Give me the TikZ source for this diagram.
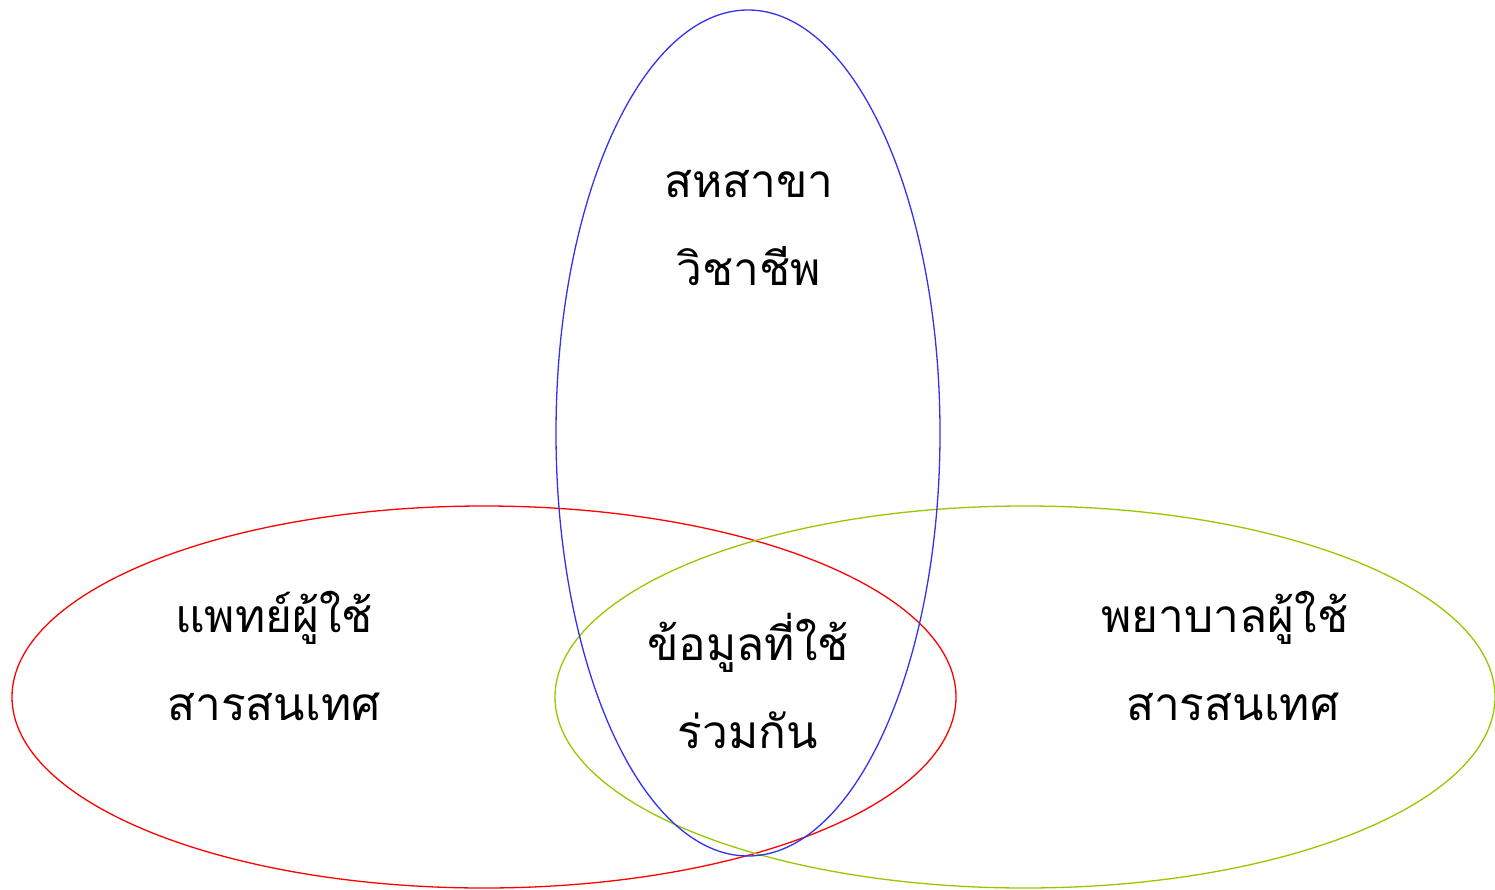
\documentclass[tikz,border=0pt]{standalone}
\usepackage{fontspec}
\newfontfamily\thaifont[Script=Thai]{Loma}
\begin{document}
\begin{tikzpicture}[x=1pt,y=-1pt,
  lbl/.style={font=\thaifont\fontsize{46}{88}\selectfont, align=center, inner sep=0pt}]
\useasboundingbox (0,0) rectangle (1495,890);
\draw[red, line width=1.3pt] (484,697) ellipse [x radius=472, y radius=191];
\draw[color={rgb,255:red,150;green,200;blue,0}, line width=1.3pt] (1025,697) ellipse [x radius=470, y radius=191];
\draw[color={rgb,255:red,50;green,50;blue,240}, line width=1.3pt] (748,433) ellipse [x radius=192, y radius=423];
\node[lbl] (t) at (749,228) {สหสาขา\\วิชาชีพ};
\node[lbl] (l) at (274,656) {แพทย์ผู้ใช้\\สารสนเทศ};
\node[lbl] (c) at (748,681) {ข้อมูลที่ใช้\\ร่วมกัน};
\node[lbl] (r) at (1225,656) {พยาบาลผู้ใช้\\\ สารสนเทศ};
\end{tikzpicture}
\end{document}
